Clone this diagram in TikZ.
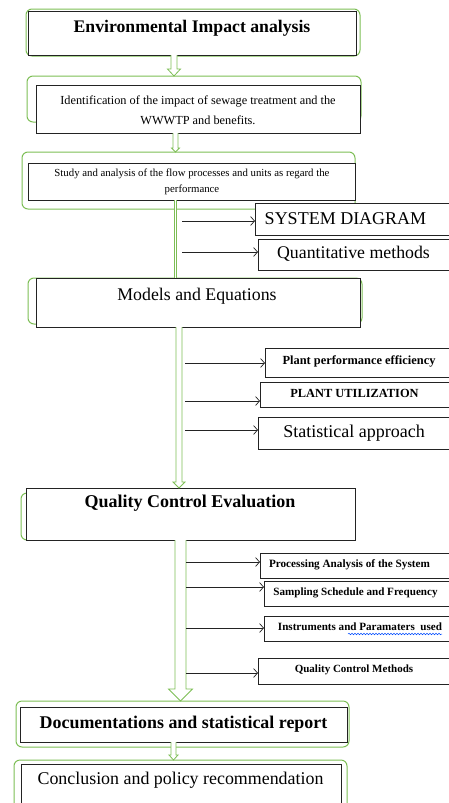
\documentclass[tikz,border=0pt]{standalone}
\usepackage{fontspec}
\setmainfont{Liberation Serif}
\usetikzlibrary{calc,arrows.meta,decorations.pathmorphing}
\definecolor{frameg}{RGB}{125,190,85}
\definecolor{ink}{RGB}{35,35,35}

% font size helper: size and leading in pt
\newcommand\setfs[2]{\fontsize{#1}{#2}\selectfont}

% rectangular node given by its corners: name, style, x1, y1, x2, y2
\newcommand\rectnode[6]{%
  \node[#2, minimum width={(#5-#3)*1pt}, minimum height={(#6-#4)*1pt}]
    (#1) at ({(#3+#5)/2},{(#4+#6)/2}) {};}

% hollow block arrow pointing down: x, top, tip, half shaft, half head, head length
\newcommand\hollowdown[6]{%
  \draw[hollow] ({#1-#4},0 |- #2)
    -- ($({#1-#4},0 |- #3)+(0,-#6)$) -- ($({#1-#5},0 |- #3)+(0,-#6)$)
    -- (#1,0 |- #3)
    -- ($({#1+#5},0 |- #3)+(0,-#6)$) -- ($({#1+#4},0 |- #3)+(0,-#6)$)
    -- ({#1+#4},0 |- #2);}

\begin{document}
\begin{tikzpicture}[x=1pt, y=-1pt,
  blk/.style={draw=ink, line width=0.9pt, fill=white, inner sep=0pt, outer sep=0pt},
  grn/.style={draw=frameg, line width=1pt, rounded corners=6pt, inner sep=0pt, outer sep=0pt},
  hollow/.style={draw=frameg, line width=0.8pt, fill=white, line join=miter},
  arr/.style={draw=ink, line width=0.7pt, -{Straight Barb[length=4pt,width=9pt]}},
  txt/.style={inner sep=0pt, text=black, align=center}]

\useasboundingbox (0,0) rectangle (448,803);

% ---- green frames ----
\rectnode{g1}{grn}{26}{9}{360}{56}
\rectnode{g2}{grn}{27}{76}{361}{122}
\rectnode{g3}{grn}{22}{152}{355}{209}
\rectnode{g4}{grn}{28}{278}{362}{324}
\rectnode{g5}{grn}{21}{493}{355}{540}
\rectnode{dg}{grn}{16}{701}{349}{747}
\rectnode{cg}{grn}{14}{760}{347}{812}

% ---- main boxes ----
\rectnode{b1}{blk}{28}{11}{356}{55}
\rectnode{b2}{blk}{36}{85}{360}{133}
\rectnode{b3}{blk}{28}{163}{355}{200}
\rectnode{mb}{blk}{36}{278}{360}{327}
\rectnode{qb}{blk}{26}{488}{355}{540}
\rectnode{db}{blk}{20}{707}{347}{742}
\rectnode{cb}{blk}{21}{764}{341}{812}

% ---- side boxes ----
\rectnode{sd}{blk}{255}{203}{449}{235}
\rectnode{qm}{blk}{258}{239}{449}{270}
\rectnode{pp}{blk}{265}{348}{449}{377}
\rectnode{pu}{blk}{260}{382}{449}{407}
\rectnode{sa}{blk}{258}{417}{449}{449}
\rectnode{pa}{blk}{260}{553}{449}{578}
\rectnode{ss}{blk}{264}{581}{449}{606}
\rectnode{ip}{blk}{264}{616}{449}{641}
\rectnode{qcm}{blk}{258}{658}{449}{684}

% ---- vertical flow (green) ----
\hollowdown{174}{b1.south}{g2.north}{3}{6.5}{7}
\hollowdown{175.5}{b2.south}{g3.north}{2.5}{4}{4}
\draw[draw=frameg, line width=0.8pt, double=white, double distance=1.2pt]
  (175.5,0 |- b3.south) -- (175.5,0 |- mb.north);
\hollowdown{179}{mb.south}{qb.north}{3}{6}{6}
\hollowdown{180.5}{qb.south}{dg.north}{5.5}{12}{12}
\hollowdown{173.5}{db.south}{cg.north}{2.5}{4.5}{5}

% ---- branch points on the flow lines ----
\coordinate (s1) at (182,0);
\coordinate (s2) at (185,0);
\coordinate (s3) at (186,0);

% ---- side arrows ----
\draw[arr] (s1 |- 0,221) -- (sd.west |- 0,221);
\draw[arr] (s1 |- 0,252) -- (qm.west |- 0,252);
\draw[arr] (s2 |- 0,363) -- (pp.west |- 0,363);
\draw[arr] (s2 |- 0,401) -- (pu.west |- 0,401);
\draw[arr] (s2 |- 0,430) -- (sa.west |- 0,430);
\draw[arr] (s3 |- 0,562) -- (pa.west |- 0,562);
\draw[arr] (s3 |- 0,587) -- (ss.west |- 0,587);
\draw[arr] (s3 |- 0,628) -- (ip.west |- 0,628);
\draw[arr] (s3 |- 0,673) -- (qcm.west |- 0,673);

% ---- texts ----
\node[txt, font=\setfs{17.7}{17.7}\bfseries] (t1) at (192,28) {Environmental Impact analysis};
\node[txt, font=\setfs{12.3}{20}] (t2) at (198,110)
  {Identification of the impact of sewage treatment and the\\WWWTP and benefits.};
\node[txt, font=\setfs{10.8}{16}] (t3) at (192,182)
  {Study and analysis of the flow processes and units as regard the\\performance};
\node[txt, font=\setfs{18}{18}] (tsd) at (345.5,219) {SYSTEM DIAGRAM};
\node[txt, font=\setfs{17.8}{17.8}] (tqm) at (353.5,254) {Quantitative methods};
\node[txt, font=\setfs{17.8}{17.8}] (tm) at (197,296) {Models and Equations};
\node[txt, font=\setfs{12.4}{12.4}\bfseries] (tpp) at (359,361) {Plant performance efficiency};
\node[txt, font=\setfs{12.4}{12.4}\bfseries] (tpu) at (354.5,393) {PLANT UTILIZATION};
\node[txt, font=\setfs{18}{18}] (tsa) at (354,433) {Statistical approach};
\node[txt, font=\setfs{18}{18}\bfseries] (tq) at (190,503) {Quality Control Evaluation};
\node[txt, font=\setfs{11.2}{11.2}\bfseries] (tpa) at (349.5,565) {Processing Analysis of the System};
\node[txt, font=\setfs{11.1}{11.1}\bfseries] (tss) at (355.5,593) {Sampling Schedule and Frequency};
\node[txt, font=\setfs{11.1}{11.1}\bfseries] (tip) at (360,627) {Instruments and Paramaters\ \ used};
\node[txt, font=\setfs{11}{11}\bfseries] (tqcm) at (354,670) {Quality Control Methods};
\node[txt, font=\setfs{17.9}{17.9}\bfseries] (td) at (183.5,724) {Documentations and statistical report};
\node[txt, font=\setfs{17.9}{17.9}] (tc) at (180.5,780) {Conclusion and policy recommendation};

% spell-check squiggle under the misspelt words
\draw[blue!70!cyan, line width=0.5pt,
  decorate, decoration={snake, amplitude=0.8pt, segment length=3pt}]
  (348,634) -- (442,634);
\end{tikzpicture}
\end{document}
